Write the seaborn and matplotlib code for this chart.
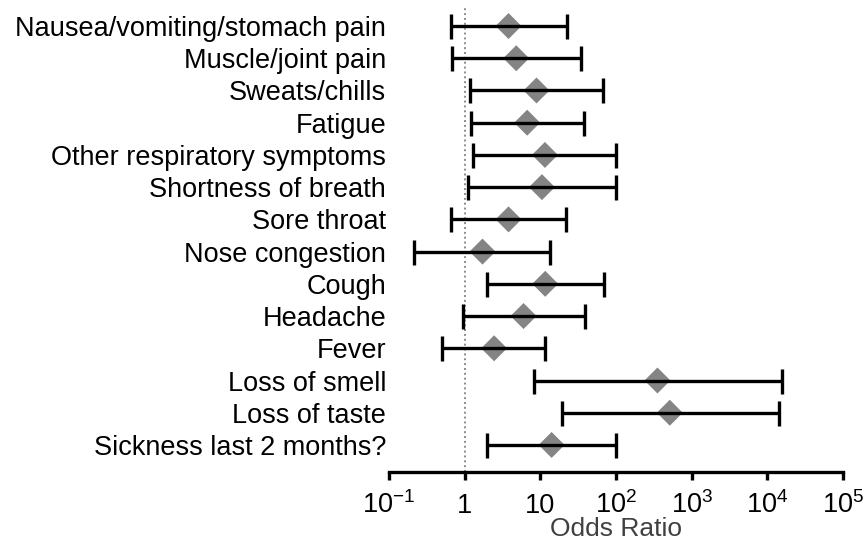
import matplotlib
matplotlib.use("Agg")
import matplotlib.pyplot as plt
import seaborn as sns
import numpy as np
from matplotlib.ticker import FixedLocator, FixedFormatter, NullLocator

categories = [
    "Nausea/vomiting/stomach pain",
    "Muscle/joint pain",
    "Sweats/chills",
    "Fatigue",
    "Other respiratory symptoms",
    "Shortness of breath",
    "Sore throat",
    "Nose congestion",
    "Cough",
    "Headache",
    "Fever",
    "Loss of smell",
    "Loss of taste",
    "Sickness last 2 months?",
]
odds_ratio = [3.8, 4.8, 8.9, 6.7, 11.5, 10.5, 3.8, 1.72, 11.6, 6.0, 2.45, 353, 514, 14.1]
ci_low = [0.65, 0.68, 1.19, 1.22, 1.30, 1.11, 0.65, 0.216, 1.98, 0.94, 0.50, 8.2, 19.1, 2.0]
ci_high = [22.7, 34.4, 67.3, 37.3, 100, 100, 21.8, 13.4, 68.7, 38.5, 11.7, 15700, 14100, 100]

tick_values = [0.1, 1, 10, 100, 1000, 10000, 100000]
tick_labels = [r"$\mathregular{10^{-1}}$", "1", "10", r"$\mathregular{10^{2}}$",
               r"$\mathregular{10^{3}}$", r"$\mathregular{10^{4}}$", r"$\mathregular{10^{5}}$"]

sns.set_theme(style="white")
plt.rcParams["font.family"] = ["Liberation Sans", "DejaVu Sans"]
plt.rcParams["mathtext.fontset"] = "custom"
plt.rcParams["mathtext.rm"] = "Liberation Sans"

fig = plt.figure(figsize=(8.64, 5.4), dpi=100)
ax_h = 465 / 540
ax = fig.add_axes([389 / 864, (540 - 471.7) / 540, (843 - 389) / 864, ax_h])

or_arr = np.array(odds_ratio)
xerr = np.vstack([or_arr - np.array(ci_low), np.array(ci_high) - or_arr])

sns.scatterplot(x=odds_ratio, y=categories, marker="D", s=175, color="#848484",
                edgecolor="none", linewidth=0, alpha=1, zorder=3, ax=ax, legend=False)
ax.errorbar(odds_ratio, categories, xerr=xerr, fmt="none", ecolor="black",
            elinewidth=2.4, capsize=9, capthick=2.4, zorder=4)

ax.axvline(1, color="#8c8c8c", linestyle=(0, (1, 1.5)), lw=1.4, zorder=1)

ax.set_xscale("log")
ax.set_xlim(0.1, 100000)
ax.set_ylim(13.83, -0.6)
ax.xaxis.set_major_locator(FixedLocator(tick_values))
ax.xaxis.set_major_formatter(FixedFormatter(tick_labels))
ax.xaxis.set_minor_locator(NullLocator())

for s in ["left", "top", "right"]:
    ax.spines[s].set_visible(False)
ax.spines["bottom"].set_linewidth(2.4)
ax.spines["bottom"].set_color("black")

ax.tick_params(axis="x", which="major", length=6, width=2.4, color="black",
               direction="out", labelsize=19.5, pad=24, bottom=True, labelcolor="black")
ax.tick_params(axis="y", length=0, labelsize=19.5, pad=2, labelcolor="black")
for lab in ax.get_xticklabels():
    lab.set_verticalalignment("baseline")

ax.set_xlabel("Odds Ratio", fontsize=19, color="#404040", va="baseline")
ax.xaxis.set_label_coords(0.5, (471.7 - 536) / 465)
ax.set_ylabel("")

fig.savefig("out.png", dpi=100)
